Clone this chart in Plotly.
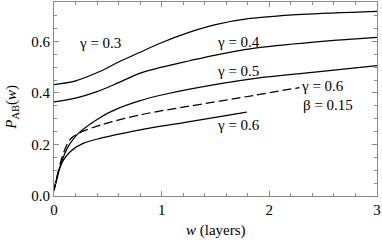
import plotly.graph_objects as go

# gamma = 0.3
w_g03 = [0, 0.2, 0.43, 0.6, 0.8, 0.98, 1.26, 1.5, 1.82, 2.3, 3.0]
p_g03 = [0.432, 0.447, 0.484, 0.52, 0.558, 0.592, 0.636, 0.665, 0.689, 0.705, 0.717]
# gamma = 0.4
w_g04 = [0, 0.2, 0.4, 0.6, 0.8, 1.0, 1.26, 1.5, 1.82, 2.2, 2.6, 3.0]
p_g04 = [0.365, 0.38, 0.405, 0.44, 0.477, 0.50, 0.525, 0.547, 0.571, 0.589, 0.604, 0.616]
# gamma = 0.5
w_g05 = [0, 0.025, 0.056, 0.1, 0.15, 0.226, 0.43, 0.58, 0.8, 1.0, 1.26, 1.82, 2.4, 3.0]
p_g05 = [0.023, 0.062, 0.113, 0.165, 0.204, 0.243, 0.305, 0.337, 0.37, 0.392, 0.415, 0.454, 0.48, 0.506]
# gamma = 0.6, beta = 0.15 (dashed)
w_g06b = [0, 0.02, 0.04, 0.07, 0.1, 0.15, 0.226, 0.43, 0.8, 1.26, 1.85, 2.28]
p_g06b = [0.023, 0.06, 0.095, 0.145, 0.18, 0.22, 0.243, 0.275, 0.315, 0.349, 0.39, 0.421]
# gamma = 0.6
w_g06 = [0, 0.02, 0.04, 0.087, 0.15, 0.27, 0.43, 0.58, 0.8, 1.26, 1.79]
p_g06 = [0.02, 0.06, 0.094, 0.139, 0.172, 0.204, 0.224, 0.238, 0.257, 0.289, 0.326]

labels = ["γ = 0.3", "γ = 0.4", "γ = 0.5", "γ = 0.6", "β = 0.15", "γ = 0.6"]
label_w = [0.43, 1.71, 1.71, 2.49, 2.545, 1.71]
label_p = [0.592, 0.596, 0.484, 0.426, 0.352, 0.275]

x_ticks = [0, 1, 2, 3]
y_ticks = [0.0, 0.2, 0.4, 0.6]
y_ticklabels = ["0.0", "0.2", "0.4", "0.6"]

font = "Liberation Serif, Times New Roman, serif"
frame = "#8a8a8a"

fig = go.Figure()
series = [(w_g03, p_g03, "solid"), (w_g04, p_g04, "solid"), (w_g05, p_g05, "solid"),
          (w_g06b, p_g06b, "9px,4px"), (w_g06, p_g06, "solid")]
for xs, ys, d in series:
    fig.add_trace(go.Scatter(x=xs, y=ys, mode="lines",
                             line=dict(color="black", width=1.25, dash=d, shape="spline", smoothing=0.9),
                             showlegend=False, hoverinfo="skip"))

for t, xv, yv in zip(labels, label_w, label_p):
    fig.add_annotation(x=xv, y=yv, text=t, showarrow=False,
                       font=dict(family=font, size=15, color="black"),
                       xanchor="center", yanchor="middle")

fig.add_annotation(xref="paper", yref="paper", x=0.5, y=0, yshift=-34,
                   text="<i>w</i> (layers)", showarrow=False,
                   font=dict(family=font, size=15, color="black"), xanchor="center", yanchor="middle")
fig.add_annotation(xref="paper", yref="paper", x=0, xshift=-42, y=0.455,
                   text="<i>P</i><sub>AB</sub>(<i>w</i>)", showarrow=False, textangle=-90,
                   font=dict(family=font, size=15, color="black"), xanchor="center", yanchor="middle")

fig.update_layout(
    width=382, height=240,
    margin=dict(l=54, r=5, t=2, b=44),
    paper_bgcolor="white", plot_bgcolor="white",
    font=dict(family=font, size=15, color="black"),
)
fig.update_xaxes(range=[0, 3], tickvals=x_ticks, ticktext=[str(v) for v in x_ticks],
                 showgrid=False, zeroline=False, showline=True, linecolor=frame, linewidth=1,
                 mirror="allticks", ticks="inside", ticklen=5, tickcolor=frame,
                 minor=dict(dtick=0.2, ticks="inside", ticklen=3, tickcolor=frame, showgrid=False),
                 tickfont=dict(family=font, size=15, color="black"))
fig.update_yaxes(range=[0, 0.753], tickvals=y_ticks, ticktext=y_ticklabels,
                 showgrid=False, zeroline=False, showline=True, linecolor=frame, linewidth=1,
                 mirror="allticks", ticks="inside", ticklen=5, tickcolor=frame,
                 minor=dict(dtick=0.05, ticks="inside", ticklen=3, tickcolor=frame, showgrid=False),
                 tickfont=dict(family=font, size=15, color="black"))

fig.write_html("out.html", config={"displayModeBar": False},
               post_script="document.body.style.margin='0';document.body.style.overflow='hidden';")
